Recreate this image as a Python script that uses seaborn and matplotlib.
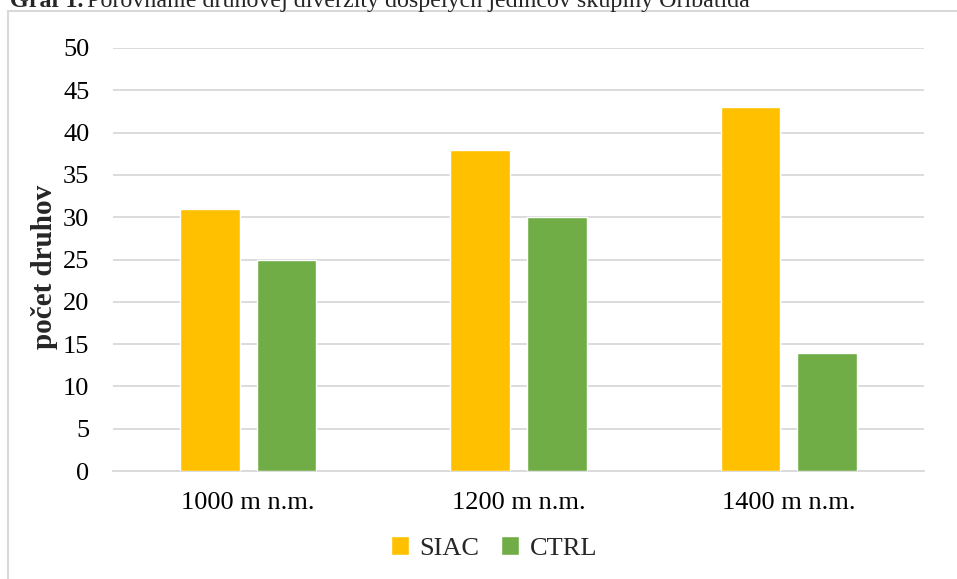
import matplotlib
matplotlib.use("Agg")
import matplotlib.pyplot as plt
import seaborn as sns
import pandas as pd
from matplotlib.patches import Rectangle

categories = ["1000 m n.m.", "1200 m n.m.", "1400 m n.m."]
series_names = ["SIAC", "CTRL"]
siac_values = [31, 38, 43]
ctrl_values = [25, 30, 14]
colors = ["#FFC000", "#70AD47"]
y_ticks = [0, 5, 10, 15, 20, 25, 30, 35, 40, 45, 50]

df = pd.DataFrame({
    "cat": categories * 2,
    "series": [series_names[0]] * 3 + [series_names[1]] * 3,
    "value": siac_values + ctrl_values,
})

sns.set_theme(style="white")
plt.rcParams['font.family'] = ['Liberation Serif', 'DejaVu Serif']

W, H = 957, 579
fig = plt.figure(figsize=(W / 100, H / 100), dpi=100)
ax = fig.add_axes([113 / W, 1 - 471 / H, (924 - 113) / W, (471 - 48) / H])

sns.barplot(data=df, x="cat", y="value", hue="series", palette=colors, saturation=1,
            width=0.566, gap=0.22, ax=ax, edgecolor="white", linewidth=1.0,
            legend=True, zorder=3)

ax.set_ylim(0, 50)
ax.set_xlim(-0.5, 2.5)
ax.set_yticks(y_ticks)
ax.yaxis.grid(True, color="#D9D9D9", linewidth=1.3, zorder=0)
ax.set_axisbelow(True)
for s in ["top", "right", "left"]:
    ax.spines[s].set_visible(False)
ax.spines["bottom"].set_color("#D9D9D9")
ax.spines["bottom"].set_linewidth(1.3)
ax.tick_params(axis="y", length=0, pad=17, labelsize=19, labelcolor="#000000")
ax.tick_params(axis="x", length=0, pad=15, labelsize=19, labelcolor="#000000")
ax.set_xlabel("")
ax.set_ylabel("počet druhov", fontsize=21, fontweight="bold", va="center")
ax.yaxis.set_label_coords((45 - 113) / 811, (471 - 267) / 423)

handles, labels = ax.get_legend_handles_labels()
ax.get_legend().remove()
fig.legend(handles, labels, loc="center", bbox_to_anchor=(494 / W, 1 - 548 / H), ncol=2,
           frameon=False, fontsize=19, handlelength=0.7, handleheight=0.7,
           handletextpad=0.4, columnspacing=0.8, borderpad=0)

# chart border
fig.patches.append(Rectangle((8 / W, -0.1), 1.2, 1.1 - 10.5 / H, transform=fig.transFigure,
                             fill=False, edgecolor="#D9D9D9", linewidth=1.5))

# title (clipped at top)
t1 = fig.text(10 / W, 1 - 7 / H, "Graf 1.", fontsize=17.3, fontweight="bold", va="baseline", ha="left")
fig.canvas.draw()
bb = t1.get_window_extent()
fig.text((bb.x1 + 4) / W, 1 - 7 / H, "Porovnanie druhovej diverzity dospelých jedincov skupiny Oribatida",
         fontsize=17.3, va="baseline", ha="left")

fig.savefig("out.png", dpi=100)
